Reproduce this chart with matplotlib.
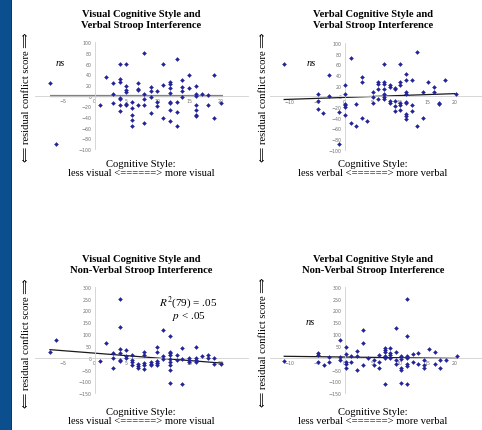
import matplotlib
matplotlib.use("Agg")
import matplotlib.pyplot as plt
from matplotlib.patches import Rectangle

# ---- data ----
# top left: visual style vs verbal stroop
vis_verb_x = [-7.1, -6.1, 0.9, 1.85, 2.9, 2.9, 2.9,
              4.0, 4.0, 4.0, 4.0, 4.0, 4.0, 4.0,
              4.9, 4.9, 4.9, 4.9, 4.9, 4.9,
              5.9, 5.9, 5.9, 5.9, 5.9,
              6.9, 6.9, 6.9, 6.9,
              7.9, 7.9, 7.9, 7.9, 7.9,
              8.9, 8.9, 8.9, 8.9,
              9.9, 9.9, 9.9,
              10.8, 10.8, 10.8,
              12, 12, 12, 12, 12, 12, 12, 12,
              13, 13, 13, 13,
              13.9, 13.9, 13.9, 13.9,
              15, 15,
              16, 16, 16, 16, 16, 16, 16,
              17, 18, 18, 18.9, 18.9, 20]
vis_verb_y = [24, -91, -17.5, 36, 23, 3, -14,
              60, 31, 26, -4, -7, -17.5, -29,
              59, 19, 11, 7, -15, -17,
              -11, -24, -36, -45, -57.5,
              24, 13, 10, -17,
              81, 4, -6, -17, -52,
              16, 8, -2.5, -33,
              8, -11, -19,
              59, 20, -42,
              26, 22, 15, 5, -11, -14, -26, -47,
              69, -12, -31, -57,
              29, 16, 8, -2.5,
              39, 15,
              18, 2.5, 0, -18, -27.5, -37, -39,
              3, 2, -17, 39, -42.5, -14]

# top right: verbal style vs verbal stroop
verb_verb_x = [-11, -4.85, -4.85, -4.85, -3.9, -2.9, -2.9,
               -1, -1,
               0, 0, 0, 0, 0, 0,
               1.1, 1.1, 2.1, 2.1, 3.1, 3.1, 3.1, 4.1,
               5.1, 5.1, 5.1,
               6.1, 6.1, 6.1, 6.1,
               7.2, 7.2, 7.2, 7.2, 7.2, 7.2, 7.2,
               8.2, 8.2, 8.2, 8.2,
               9.1, 9.1, 9.1, 9.1, 9.1,
               10.1, 10.1, 10.1, 10.1, 10.1, 10.1,
               11.2, 11.2, 11.2, 11.2, 11.2, 11.2, 11.2, 11.2, 11.2,
               12.2, 12.2, 12.2,
               13.2, 13.2, 14.2, 14.2, 15.2, 16.2, 16.2,
               17.2, 17.2, 18.2, 20.2]
verb_verb_y = [61, 4, -9, -23, -32, 40, 0,
               -29, -89,
               21, 4, -14, -17, -20, -36,
               71, -51, -15, -56, 37, 26, -41, -46,
               9, -1, -12.5,
               26, 23, 14, -5,
               60, 26, 23, 14, 5, -1, -5,
               21, 17, -9, -12.5,
               16, 14, -9, -19, -27.5,
               60, 27, 21, -12.5, -16, -25,
               41, 30, 7.5, 5, -10, -12.5, -34, -37.5, -42,
               31, -17, -27.5,
               82.5, -56, 9, -41, 26, 17.5, 9,
               -12, -14, 31, 4]

# bottom left: visual style vs non-verbal stroop
vis_nonverb_x = [-7.1, -6.1, 0.9, 1.85, 2.9, 2.9, 2.9,
                 4.0, 4.0, 4.0, 4.0, 4.0, 4.0,
                 4.9, 4.9, 4.9,
                 5.9, 5.9, 5.9, 5.9,
                 6.9, 6.9, 6.9,
                 7.9, 7.9, 7.9, 7.9, 7.9,
                 8.9, 8.9, 8.9,
                 9.9, 9.9, 9.9, 9.9, 9.9,
                 10.8, 10.8, 10.8,
                 12, 12, 12, 12, 12, 12, 12, 12, 12,
                 13, 13,
                 13.9, 13.9, 13.9,
                 15, 15, 15,
                 16, 16, 16, 16,
                 17, 18, 18, 18.9, 18.9, 20]
vis_nonverb_y = [25, 75, -15, 63, 20, -1, -44,
                 246, 128, 35, 20, -10, -15,
                 31, 6, -3,
                 13, -8, -20, -31,
                 -25, -37, -45,
                 23, 13, -23, -32, -48,
                 -17, -25, -31,
                 44, 25, -15, -24, -31,
                 115, 8, -7,
                 93, 25, 18, 10, -6, -17, -31, -51, -106,
                 11, -8,
                 39, -7, -111,
                 -3, -11, -20,
                 46, -3, -11, -20,
                 6, 13, 0, -3, -27, -28]

# bottom right: verbal style vs non-verbal stroop
verb_nonverb_x = [-11, -4.85, -4.85, -4.85, -3.8, -2.8, -2.8,
                  -0.8, -0.8, -0.8,
                  0.2, 0.2, 0.2, 0.2, 0.2,
                  1.2, 1.2, 2.2, 2.2, 2.2,
                  3.3, 3.3, 3.3, 4.2,
                  5.3, 5.3, 6.2, 6.2, 6.2,
                  7.3, 7.3, 7.3, 7.3, 7.3, 7.3,
                  8.3, 8.3, 8.3, 8.3,
                  9.3, 9.3, 9.3, 9.3,
                  10.3, 10.3, 10.3, 10.3, 10.3,
                  11.3, 11.3, 11.3, 11.3, 11.3, 11.3, 11.3,
                  12.4, 12.4, 13.3, 13.3,
                  14.4, 14.4, 14.4, 15.4, 16.4, 16.4,
                  17.4, 17.4, 18.4, 20.4]
verb_nonverb_y = [-13, 20, 13, -17, -30, 3, -20,
                  75, 3, -8,
                  46, 15, -17, -28, -45,
                  6, -20, 28, 6, -51,
                  115, 62, -30, 0,
                  -11, -31, 11, -17, -45,
                  39, 31, 23, 8, 0, -111,
                  42, 21, 10, -1,
                  127, 25, -8, -25,
                  8, -6, -45, -51, -107,
                  246, 93, 8, 0, -25, -34, -113,
                  17, -17, 21, -27,
                  -8, -30, -45, 37, 25, -27,
                  -11, -45, -8, 6]

# trend line end points
trend_x = [[-7.1, 20.3], [-11, 20], [-7.1, 20.3], [-11, 20.4]]
trend_y = [[0, 0], [-6, 5], [34, -23], [6, -3]]

titles = ["Visual Cognitive Style and\nVerbal Stroop Interference",
          "Verbal Cognitive Style and\nVerbal Stroop Interference",
          "Visual Cognitive Style and\nNon-Verbal Stroop Interference",
          "Verbal Cognitive Style and\nNon-Verbal Stroop Interference"]
xlabels = ["Cognitive Style:\nless visual <======> more visual",
           "Cognitive Style:\nless verbal <======> more verbal",
           "Cognitive Style:\nless visual <======> more visual",
           "Cognitive Style:\nless verbal <======> more verbal"]
ylabel = "\u27f8 residual conflict score \u27f9"

# ---- layout (pixels) ----
W, H = 482, 431
plt.rcParams['mathtext.fontset'] = 'stix'
serif = ['Liberation Serif', 'DejaVu Sans']

fig = plt.figure(figsize=(W / 100, H / 100), dpi=100)
fig.patch.set_facecolor('white')
fig.patches.append(Rectangle((0, 0), 10.5 / W, 1, transform=fig.transFigure,
                             facecolor='#0b4f8f', edgecolor='none'))
fig.patches.append(Rectangle((10.5 / W, 0), 1 / W, 1, transform=fig.transFigure,
                             facecolor='#083a6a', edgecolor='none'))


def fx(px):
    return px / W


def fy(py):
    return 1 - py / H


# panel: (x origin px, px per x unit, y origin px, px per y unit, xlim, ylim, yticks, xticks)
panels = [
    (94.7, 6.3, 96.7, 0.533, (-9.5, 24.3), (-100, 100), range(-100, 101, 20), range(-5, 21, 5)),
    (344.7, 5.5, 97.3, 0.533, (-13.5, 25.3), (-100, 100), range(-100, 101, 20), range(-10, 21, 5)),
    (94.7, 6.3, 358.7, 0.2367, (-9.5, 24.3), (-150, 300), range(-150, 301, 50), range(-5, 21, 5)),
    (344.7, 5.5, 358.7, 0.2367, (-13.5, 25.3), (-150, 300), range(-150, 301, 50), range(-10, 21, 5)),
]
data = [(vis_verb_x, vis_verb_y), (verb_verb_x, verb_verb_y),
        (vis_nonverb_x, vis_nonverb_y), (verb_nonverb_x, verb_nonverb_y)]

for i, (ox, sx, oy, sy, xl, yl, yt, xt) in enumerate(panels):
    left = ox + sx * xl[0]
    right = ox + sx * xl[1]
    top = oy - sy * yl[1]
    bottom = oy - sy * yl[0]
    ax = fig.add_axes([fx(left), fy(bottom), (right - left) / W, (bottom - top) / H])
    ax.patch.set_alpha(0)
    ax.set_xlim(*xl)
    ax.set_ylim(*yl)
    for s in ['top', 'right']:
        ax.spines[s].set_visible(False)
    ax.spines['left'].set_position(('data', 0))
    ax.spines['bottom'].set_position(('data', 0))
    for s in ['left', 'bottom']:
        ax.spines[s].set_color('#d0d0d0')
        ax.spines[s].set_linewidth(0.6)
    ax.set_yticks(list(yt))
    ax.set_xticks(list(xt))
    ax.tick_params(length=0, labelsize=3.4, labelcolor='#707070', pad=2)
    xs, ys = data[i]
    ax.plot(xs, ys, linestyle='none', marker='D', markersize=2.0,
            markeredgewidth=0.3, color='#24249a', zorder=3)
    if i == 0:
        ax.plot(trend_x[i], trend_y[i], color='#808080', lw=1.6, zorder=2,
                solid_capstyle='butt')
    else:
        ax.plot(trend_x[i], trend_y[i], color='#1a1a1a', lw=0.9, zorder=2)

# titles, axis labels
title_cx = [141, 373, 141, 373]
title_y = [20, 20, 265, 265]
xlab_y = [169, 169, 417, 417]
ylab_x = [27, 264, 27, 264]
ylab_y = [97, 97, 343, 342]
for i in range(4):
    fig.text(fx(title_cx[i]), fy(title_y[i]), titles[i], ha='center', va='center',
             fontsize=7.6, fontweight='bold', family=serif, linespacing=1.2)
    fig.text(fx(title_cx[i]), fy(xlab_y[i]), xlabels[i], ha='center', va='center',
             fontsize=7.7, family=serif, linespacing=1.05)
    fig.text(fx(ylab_x[i]), fy(ylab_y[i]), ylabel, ha='center', va='center',
             rotation=90, fontsize=7.7, family=serif)

# annotations
for (x, y) in [(60, 63), (311, 63), (310, 323)]:
    fig.text(fx(x), fy(y), "ns", ha='center', va='center', fontsize=7.5,
             style='italic', family=serif)
fig.text(fx(188), fy(303), r"$R^2$(79) = .05", ha='center', va='center',
         fontsize=8, family=serif)
fig.text(fx(189), fy(317), r"$p$ < .05", ha='center', va='center',
         fontsize=8, family=serif)

fig.savefig("out.png", dpi=100, facecolor='white')
